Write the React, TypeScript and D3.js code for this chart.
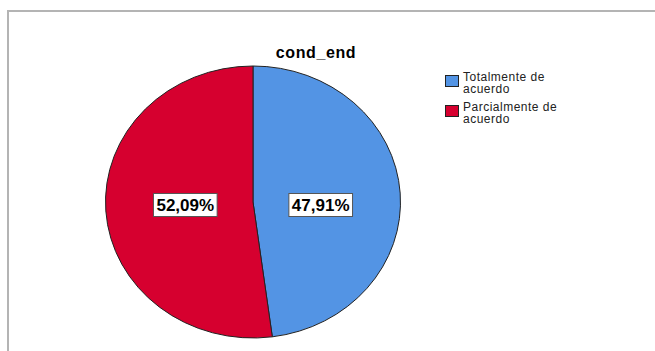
import { useEffect, useRef } from "react";
import * as d3 from "d3";

const categories = ["Totalmente de acuerdo", "Parcialmente de acuerdo"];
const legendLines = [
  ["Totalmente de", "acuerdo"],
  ["Parcialmente de", "acuerdo"],
];
const percents = [47.91, 52.09];
const colors = ["#5394e4", "#d6002f"];
const title = "cond_end";

const App = () => {
  const svgRef = useRef(null);

  useEffect(() => {
    const width = 655;
    const height = 351;
    const cx = 253;
    const cy = 202;
    const rx = 147.5;
    const ry = 136;

    const svg = d3.select(svgRef.current);
    svg.selectAll("*").remove();
    svg.attr("width", width).attr("height", height);

    svg.append("rect").attr("width", width).attr("height", height).attr("fill", "#fff");

    // рамка
    svg
      .append("path")
      .attr("d", `M8,${height + 2}V11H${width + 2}`)
      .attr("fill", "none")
      .attr("stroke", "#b4b4b4")
      .attr("stroke-width", 2);

    // заголовок
    svg
      .append("text")
      .attr("x", 316)
      .attr("y", 58)
      .attr("text-anchor", "middle")
      .attr("font-family", "Liberation Sans, Arial, sans-serif")
      .attr("font-weight", "bold")
      .attr("font-size", 16)
      .attr("letter-spacing", 0.6)
      .text(title);

    const data = categories.map((c, i) => ({ name: c, value: percents[i], color: colors[i] }));
    const pie = d3
      .pie<any>()
      .sort(null)
      .value((d) => d.value);
    const arcs = pie(data);
    const arc = d3.arc<any>().innerRadius(0).outerRadius(rx);

    const g = svg
      .append("g")
      .attr("transform", `translate(${cx},${cy}) scale(1,${ry / rx})`);

    g.selectAll("path")
      .data(arcs)
      .enter()
      .append("path")
      .attr("d", arc)
      .attr("fill", (d) => d.data.color)
      .attr("stroke", "#222")
      .attr("stroke-width", 1)
      .attr("vector-effect", "non-scaling-stroke");

    // подписи процентов
    const labelArc = d3.arc<any>().innerRadius(rx * 0.46).outerRadius(rx * 0.46);
    const fmt = d3.format(".2f");
    arcs.forEach((a) => {
      const [lx] = labelArc.centroid(a);
      const x = cx + lx;
      const y = cy + 3;
      const lg = svg.append("g");
      const t = lg
        .append("text")
        .attr("x", x)
        .attr("y", y + 6)
        .attr("text-anchor", "middle")
        .attr("font-family", "Liberation Sans, Arial, sans-serif")
        .attr("font-weight", "bold")
        .attr("font-size", 17)
        .text(fmt(a.data.value).replace(".", ",") + "%");
      const bb = (t.node() as SVGTextElement).getBBox();
      lg.insert("rect", "text")
        .attr("x", bb.x - 3)
        .attr("y", y - 11.5)
        .attr("width", bb.width + 6)
        .attr("height", 23)
        .attr("fill", "#fff")
        .attr("stroke", "#555")
        .attr("stroke-width", 1);
    });

    // легенда
    const legend = svg.append("g").attr("transform", "translate(445,75)");
    legendLines.forEach((lines, i) => {
      const item = legend.append("g").attr("transform", `translate(0,${i * 30})`);
      item
        .append("rect")
        .attr("x", 0.5)
        .attr("y", 0.5)
        .attr("width", 13)
        .attr("height", 11)
        .attr("fill", colors[i])
        .attr("stroke", "#222")
        .attr("stroke-width", 1);
      lines.forEach((line, j) => {
        item
          .append("text")
          .attr("x", 18)
          .attr("y", 5.5 + j * 12.5)
          .attr("font-family", "Liberation Sans, Arial, sans-serif")
          .attr("font-size", 12)
          .attr("letter-spacing", 0.5)
          .attr("fill", "#222")
          .text(line);
      });
    });
  }, []);

  return (
    <div style={{ position: "absolute", left: 0, top: 0 }}>
      <svg ref={svgRef} style={{ display: "block" }}></svg>
    </div>
  );
};

export default App;
